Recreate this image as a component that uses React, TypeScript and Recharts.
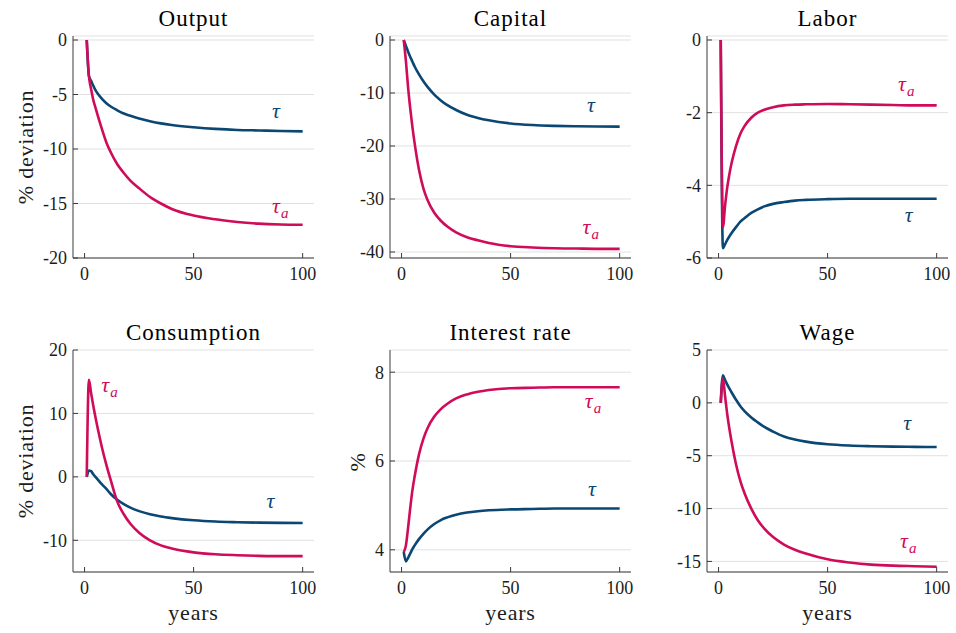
import React from "react";
import { LineChart, Line, XAxis, YAxis, CartesianGrid, ReferenceDot } from "recharts";

// ---------- data ----------
const YEARS = [1, 2, 3, 4, 5, 6, 8, 10, 12, 15, 18, 21, 25, 30, 35, 40, 50, 60, 70, 80, 90, 100];

const OUTPUT_TAU = [0, -3.3, -3.75, -4.2, -4.6, -4.9, -5.4, -5.8, -6.1, -6.45, -6.75, -6.95, -7.2, -7.45, -7.65, -7.8, -8.0, -8.15, -8.25, -8.3, -8.35, -8.38];
const OUTPUT_TAUA = [0, -3.3, -4.5, -5.5, -6.2, -6.9, -8.2, -9.4, -10.3, -11.4, -12.2, -12.9, -13.6, -14.4, -15.0, -15.5, -16.1, -16.45, -16.7, -16.85, -16.92, -16.95];

const CAPITAL_TAU = [0, -1.1, -2.2, -3.2, -4.1, -5.0, -6.5, -7.8, -8.9, -10.3, -11.4, -12.3, -13.2, -14.1, -14.7, -15.15, -15.75, -16.05, -16.2, -16.28, -16.33, -16.35];
const CAPITAL_TAUA = [0, -4, -9, -13, -16.5, -19.5, -24.5, -28, -30.3, -32.6, -34.1, -35.2, -36.3, -37.2, -37.8, -38.3, -38.9, -39.15, -39.3, -39.35, -39.4, -39.4];

const LABOR_TAU = [0, -5.73, -5.62, -5.5, -5.4, -5.31, -5.15, -5.0, -4.9, -4.76, -4.66, -4.58, -4.51, -4.46, -4.42, -4.4, -4.38, -4.37, -4.37, -4.37, -4.37, -4.37];
const LABOR_TAUA = [0, -5.15, -4.55, -4.05, -3.68, -3.38, -2.92, -2.58, -2.36, -2.14, -2.0, -1.92, -1.85, -1.8, -1.78, -1.77, -1.76, -1.77, -1.78, -1.79, -1.8, -1.8];

const CONS_TAU = [0, 1.0, 0.9, 0.4, 0.0, -0.4, -1.2, -1.9, -2.7, -3.6, -4.3, -4.85, -5.4, -5.9, -6.25, -6.5, -6.85, -7.05, -7.15, -7.22, -7.26, -7.28];
const CONS_TAUA = [0, 15.3, 13.2, 11.2, 9.4, 7.7, 4.6, 1.9, -0.5, -3.9, -5.9, -7.4, -8.8, -10.0, -10.8, -11.3, -11.9, -12.2, -12.35, -12.45, -12.5, -12.5];

const RATE_TAU = [3.95, 3.74, 3.82, 3.92, 4.02, 4.1, 4.24, 4.36, 4.46, 4.58, 4.67, 4.73, 4.79, 4.84, 4.87, 4.89, 4.91, 4.92, 4.93, 4.93, 4.93, 4.93];
const RATE_TAUA = [3.95, 4.1, 4.5, 4.95, 5.35, 5.65, 6.15, 6.5, 6.75, 7.0, 7.17, 7.29, 7.41, 7.5, 7.56, 7.6, 7.64, 7.65, 7.66, 7.66, 7.66, 7.66];

const WAGE_TAU = [0, 2.6, 2.15, 1.72, 1.35, 0.98, 0.3, -0.32, -0.8, -1.38, -1.85, -2.28, -2.72, -3.18, -3.47, -3.67, -3.92, -4.04, -4.1, -4.14, -4.16, -4.18];
const WAGE_TAUA = [0, 2.3, 0.6, -1.1, -2.5, -3.7, -5.8, -7.4, -8.6, -10.0, -11.1, -11.9, -12.7, -13.4, -13.9, -14.25, -14.8, -15.1, -15.3, -15.4, -15.45, -15.5];

const X_TICKS = [0, 50, 100];
const OUTPUT_TICKS = [-20, -15, -10, -5, 0];
const CAPITAL_TICKS = [-40, -30, -20, -10, 0];
const LABOR_TICKS = [-6, -4, -2, 0];
const CONS_TICKS = [-10, 0, 10, 20];
const RATE_TICKS = [4, 6, 8];
const WAGE_TICKS = [-15, -10, -5, 0, 5];

const TITLES = ["Output", "Capital", "Labor", "Consumption", "Interest rate", "Wage"];

// ---------- styles ----------
const BLUE = "#0a4773";
const RED = "#cf0b5a";
const AXIS = "#3a3a3a";
const GRID = "#e1e1e1";
const TEXT = "#1c1c1c";
const FONT = "Liberation Serif, DejaVu Serif, Times New Roman, serif";

const W = 241;
const H = 222;
const ML = 70;
const MT = 20;
const MR = 12;
const MB = 40;
const X_DOMAIN: [number, number] = [-5.3, 105.2];

type Row = { t: number; tau: number; taua: number };
const rows = (a: number[], b: number[]): Row[] => YEARS.map((t, i) => ({ t, tau: a[i], taua: b[i] }));

const tauShape = (color: string, sub: boolean) => (p: any) => (
  <text x={p.cx} y={p.cy} fill={color} fontFamily={FONT} fontSize={22} fontStyle="italic">
    τ
    {sub ? (
      <tspan fontSize={15} dy={5} dx={1}>
        a
      </tspan>
    ) : null}
  </text>
);

type PanelProps = {
  left: number;
  top: number;
  data: Row[];
  yDomain: [number, number];
  yTicks: number[];
  tauPos: [number, number];
  tauaPos: [number, number];
};

function Panel({ left, top, data, yDomain, yTicks, tauPos, tauaPos }: PanelProps) {
  const tickStyle = { fontSize: 18, fontFamily: FONT, fill: TEXT };
  return (
    <div style={{ position: "absolute", left: left - ML, top: top - MT }}>
      <LineChart width={ML + W + MR} height={MT + H + MB} data={data} margin={{ top: MT, right: MR, bottom: 0, left: 0 }}>
        <CartesianGrid horizontal vertical={false} stroke={GRID} strokeWidth={1} />
        <XAxis
          dataKey="t"
          type="number"
          domain={X_DOMAIN}
          ticks={X_TICKS}
          allowDataOverflow
          height={MB}
          tickSize={-5}
          tickMargin={14}
          stroke={AXIS}
          tick={tickStyle}
          interval={0}
        />
        <XAxis
          xAxisId="top"
          orientation="top"
          dataKey="t"
          type="number"
          domain={X_DOMAIN}
          ticks={X_TICKS}
          allowDataOverflow
          height={0}
          tickSize={-5}
          stroke={AXIS}
          tick={false}
        />
        <YAxis
          type="number"
          domain={yDomain}
          ticks={yTicks}
          allowDataOverflow
          width={ML}
          tickSize={-5}
          tickMargin={11}
          stroke={AXIS}
          tick={tickStyle}
          interval={0}
        />
        <YAxis
          yAxisId="right"
          orientation="right"
          type="number"
          domain={yDomain}
          ticks={yTicks}
          allowDataOverflow
          width={0}
          tickSize={-5}
          stroke={AXIS}
          tick={false}
        />
        <Line type="monotone" dataKey="tau" stroke={BLUE} strokeWidth={2.6} dot={false} isAnimationActive={false} />
        <Line type="monotone" dataKey="taua" stroke={RED} strokeWidth={2.6} dot={false} isAnimationActive={false} />
        <ReferenceDot x={tauPos[0]} y={tauPos[1]} r={0} shape={tauShape(BLUE, false)} />
        <ReferenceDot x={tauaPos[0]} y={tauaPos[1]} r={0} shape={tauShape(RED, true)} />
      </LineChart>
    </div>
  );
}

const COLS = [73, 390, 707];
const ROWS = [36, 350];

export default function App() {
  const titleStyle = { fontFamily: FONT, fontSize: 23, fill: "#000", letterSpacing: 1 } as const;
  const labelStyle = { fontFamily: FONT, fontSize: 22, fill: TEXT, letterSpacing: 0.8 } as const;
  return (
    <div style={{ position: "absolute", left: 0, top: 0, width: 956, height: 633, overflow: "hidden", background: "#fff", fontFamily: FONT }}>
      <Panel left={COLS[0]} top={ROWS[0]} data={rows(OUTPUT_TAU, OUTPUT_TAUA)} yDomain={[-20, 0.367]} yTicks={OUTPUT_TICKS} tauPos={[86, -7.15]} tauaPos={[86, -15.9]} />
      <Panel left={COLS[1]} top={ROWS[0]} data={rows(CAPITAL_TAU, CAPITAL_TAUA)} yDomain={[-41.13, 0.755]} yTicks={CAPITAL_TICKS} tauPos={[85, -13.6]} tauaPos={[83, -36.6]} />
      <Panel left={COLS[2]} top={ROWS[0]} data={rows(LABOR_TAU, LABOR_TAUA)} yDomain={[-6, 0.11]} yTicks={LABOR_TICKS} tauPos={[85.4, -5.0]} tauaPos={[82.3, -1.4]} />
      <Panel left={COLS[0]} top={ROWS[1]} data={rows(CONS_TAU, CONS_TAUA)} yDomain={[-15, 20]} yTicks={CONS_TICKS} tauPos={[83.4, -4.87]} tauaPos={[7.7, 13.3]} />
      <Panel left={COLS[1]} top={ROWS[1]} data={rows(RATE_TAU, RATE_TAUA)} yDomain={[3.5, 8.5]} yTicks={RATE_TICKS} tauPos={[85.5, 5.22]} tauaPos={[84, 7.2]} />
      <Panel left={COLS[2]} top={ROWS[1]} data={rows(WAGE_TAU, WAGE_TAUA)} yDomain={[-16, 5]} yTicks={WAGE_TICKS} tauPos={[84.7, -2.6]} tauaPos={[83.2, -13.7]} />
      <svg width={956} height={633} style={{ position: "absolute", left: 0, top: 0, pointerEvents: "none" }}>
        {TITLES.map((t, i) => (
          <text key={t} x={COLS[i % 3] + W / 2} y={ROWS[Math.floor(i / 3)] - 10} textAnchor="middle" style={titleStyle}>
            {t}
          </text>
        ))}
        <text transform={`translate(33,${ROWS[0] + H / 2}) rotate(-90)`} textAnchor="middle" style={labelStyle}>
          % deviation
        </text>
        <text transform={`translate(33,${ROWS[1] + H / 2}) rotate(-90)`} textAnchor="middle" style={labelStyle}>
          % deviation
        </text>
        <text transform={`translate(365,${ROWS[1] + H / 2 + 1}) rotate(-90)`} textAnchor="middle" style={labelStyle}>
          %
        </text>
        {COLS.map((c) => (
          <text key={c} x={c + W / 2} y={620} textAnchor="middle" style={labelStyle}>
            years
          </text>
        ))}
      </svg>
    </div>
  );
}
